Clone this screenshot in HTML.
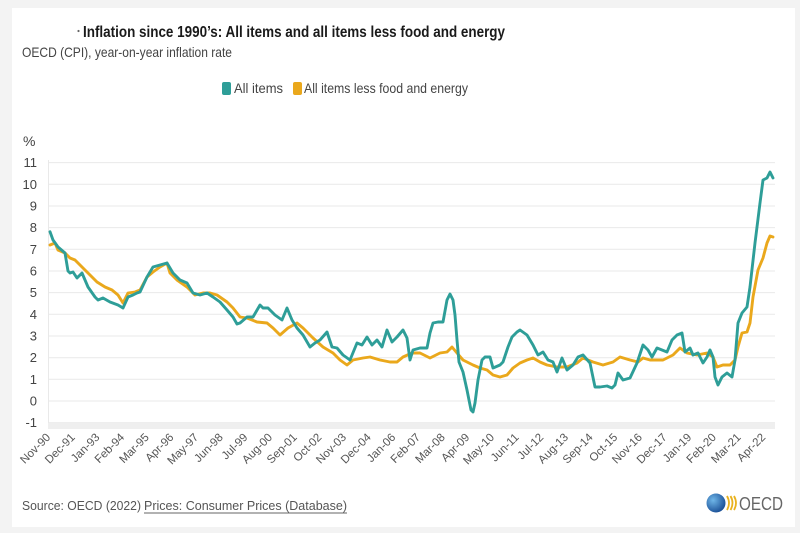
<!DOCTYPE html>
<html><head><meta charset="utf-8"><style>
html,body{margin:0;padding:0;background:#f3f3f3;}
svg{display:block;}
text{font-family:"Liberation Sans",sans-serif;}
</style></head><body>
<svg width="800" height="533" viewBox="0 0 800 533" xmlns="http://www.w3.org/2000/svg">
<rect x="0" y="0" width="800" height="533" fill="#f3f3f3"/>
<rect x="12" y="8" width="783" height="519" fill="#ffffff"/>
<circle cx="78.5" cy="31" r="1.1" fill="#666"/>
<text x="83" y="37" font-size="15.5" font-weight="bold" fill="#1a1a1a" textLength="422" lengthAdjust="spacingAndGlyphs">Inflation since 1990’s: All items and all items less food and energy</text>
<text x="22" y="57" font-size="14" fill="#444" textLength="210" lengthAdjust="spacingAndGlyphs">OECD (CPI), year-on-year inflation rate</text>
<rect x="222" y="82" width="9" height="13" rx="2" fill="#2e9e98"/>
<text x="234" y="93" font-size="14" fill="#444" textLength="49" lengthAdjust="spacingAndGlyphs">All items</text>
<rect x="293" y="82" width="9" height="13" rx="2" fill="#eaa81c"/>
<text x="304" y="93" font-size="14" fill="#444" textLength="164" lengthAdjust="spacingAndGlyphs">All items less food and energy</text>
<text x="23" y="146" font-size="14" fill="#444">%</text>
<g stroke="#e9e9e9" stroke-width="1">
<line x1="48" y1="162.6" x2="775" y2="162.6"/>
<line x1="48" y1="184.3" x2="775" y2="184.3"/>
<line x1="48" y1="206" x2="775" y2="206"/>
<line x1="48" y1="227.6" x2="775" y2="227.6"/>
<line x1="48" y1="249.3" x2="775" y2="249.3"/>
<line x1="48" y1="271" x2="775" y2="271"/>
<line x1="48" y1="292.6" x2="775" y2="292.6"/>
<line x1="48" y1="314.3" x2="775" y2="314.3"/>
<line x1="48" y1="336" x2="775" y2="336"/>
<line x1="48" y1="357.7" x2="775" y2="357.7"/>
<line x1="48" y1="379.3" x2="775" y2="379.3"/>
<line x1="48" y1="401" x2="775" y2="401"/>
<line x1="48" y1="422.7" x2="775" y2="422.7"/>
<line x1="48.5" y1="160" x2="48.5" y2="423"/>
</g>
<rect x="48" y="423" width="727" height="6" fill="#efefef"/>
<g font-size="13" fill="#444" text-anchor="end">
<text x="37" y="167">11</text>
<text x="37" y="189">10</text>
<text x="37" y="210.5">9</text>
<text x="37" y="232">8</text>
<text x="37" y="254">7</text>
<text x="37" y="275.5">6</text>
<text x="37" y="297">5</text>
<text x="37" y="319">4</text>
<text x="37" y="340.5">3</text>
<text x="37" y="362">2</text>
<text x="37" y="384">1</text>
<text x="37" y="405.5">0</text>
<text x="37" y="427">-1</text>
</g>
<g font-size="11.5" fill="#555" text-anchor="end">
<text transform="translate(51,438) rotate(-45)">Nov-90</text>
<text transform="translate(75.7,438) rotate(-45)">Dec-91</text>
<text transform="translate(100.3,438) rotate(-45)">Jan-93</text>
<text transform="translate(125,438) rotate(-45)">Feb-94</text>
<text transform="translate(149.6,438) rotate(-45)">Mar-95</text>
<text transform="translate(174.3,438) rotate(-45)">Apr-96</text>
<text transform="translate(199,438) rotate(-45)">May-97</text>
<text transform="translate(223.6,438) rotate(-45)">Jun-98</text>
<text transform="translate(248.3,438) rotate(-45)">Jul-99</text>
<text transform="translate(272.9,438) rotate(-45)">Aug-00</text>
<text transform="translate(297.6,438) rotate(-45)">Sep-01</text>
<text transform="translate(322.3,438) rotate(-45)">Oct-02</text>
<text transform="translate(346.9,438) rotate(-45)">Nov-03</text>
<text transform="translate(371.6,438) rotate(-45)">Dec-04</text>
<text transform="translate(396.2,438) rotate(-45)">Jan-06</text>
<text transform="translate(420.9,438) rotate(-45)">Feb-07</text>
<text transform="translate(445.6,438) rotate(-45)">Mar-08</text>
<text transform="translate(470.2,438) rotate(-45)">Apr-09</text>
<text transform="translate(494.9,438) rotate(-45)">May-10</text>
<text transform="translate(519.5,438) rotate(-45)">Jun-11</text>
<text transform="translate(544.2,438) rotate(-45)">Jul-12</text>
<text transform="translate(568.9,438) rotate(-45)">Aug-13</text>
<text transform="translate(593.5,438) rotate(-45)">Sep-14</text>
<text transform="translate(618.2,438) rotate(-45)">Oct-15</text>
<text transform="translate(642.8,438) rotate(-45)">Nov-16</text>
<text transform="translate(667.5,438) rotate(-45)">Dec-17</text>
<text transform="translate(692.2,438) rotate(-45)">Jan-19</text>
<text transform="translate(716.8,438) rotate(-45)">Feb-20</text>
<text transform="translate(741.5,438) rotate(-45)">Mar-21</text>
<text transform="translate(766.1,438) rotate(-45)">Apr-22</text>
</g>
<polyline fill="none" stroke="#eaa81c" stroke-width="2.9" stroke-linejoin="round" stroke-linecap="round" points="50,245 55,243 58,250 65,253 70,258 75,260 82,267 90,275 97,282 105,287 112,290 118,295 123,303 128,293 135,292 140,290 147,277 153,272 160,267 167,263 170,273 177,280 187,287 195,295 203,293 210,293 217,295 227,302 233,308 240,317 247,318 257,322 267,323 273,328 280,335 288,328 297,323 303,328 313,338 323,347 333,353 340,360 347,365 353,360 363,358 370,357 380,360 390,362 397,362 403,357 412,353 420,353 430,358 440,353 447,352 452,347 457,353 463,360 473,365 480,368 487,370 493,375 500,377 507,375 513,368 520,363 527,360 533,358 540,362 547,365 557,367 567,367 577,363 583,358 593,362 603,365 613,362 620,357 630,360 638,362 643,358 650,360 663,360 673,355 680,348 687,353 697,355 707,353 713,357 717,367 723,365 730,365 735,360 738,347 742,333 747,332 750,323 753,297 758,270 763,258 767,243 770,236 773,237"/>
<polyline fill="none" stroke="#2e9e98" stroke-width="2.9" stroke-linejoin="round" stroke-linecap="round" points="50,231.7 53,240 58,247 65,253 68,271 70,273 73,272 77,278 82,273 88,287 95,297 98,300 103,298 110,302 118,305 123,308 128,297 133,295 137,293 140,292 147,277 153,267 160,265 167,263 173,273 180,280 187,283 193,293 200,295 207,293 213,297 220,302 227,310 233,317 237,324 240,323 247,317 253,317 260,305 263,308 268,308 275,315 282,320 287,308 292,320 297,328 303,335 310,347 315,343 320,340 327,332 332,347 337,348 343,355 350,360 357,343 362,345 367,337 372,345 377,340 382,347 387,330 392,342 397,337 403,330 407,338 410,360 413,350 420,348 427,348 430,333 433,323 438,322 443,322 447,300 450,294 453,300 455,315 457,340 459,362 463,372 467,390 471,410 473,412 475,403 478,380 482,360 485,357 490,357 493,368 500,365 503,362 508,347 512,337 517,332 520,330 527,335 533,345 538,355 543,352 548,360 553,362 557,372 562,358 567,370 573,365 578,357 583,355 590,363 595,387 600,387 607,386 612,388 615,385 618,373 623,380 630,378 637,363 643,345 648,350 652,357 657,348 662,350 667,352 672,340 677,335 682,333 685,352 690,348 693,355 698,353 703,363 707,357 710,350 713,357 715,377 718,385 722,377 727,373 732,377 735,360 738,323 742,313 747,307 750,287 755,243 760,203 763,180 767,178 770,172 773,178"/>
<text x="22" y="510" font-size="13" fill="#555" textLength="119" lengthAdjust="spacingAndGlyphs">Source: OECD (2022)</text>
<text x="144" y="510" font-size="13" fill="#555" textLength="203" lengthAdjust="spacingAndGlyphs">Prices: Consumer Prices (Database)</text>
<line x1="144" y1="513" x2="347" y2="513" stroke="#666" stroke-width="0.9"/>
<defs><radialGradient id="g" cx="0.35" cy="0.35" r="0.7"><stop offset="0" stop-color="#6fb6e8"/><stop offset="1" stop-color="#1a4f96"/></radialGradient></defs>
<circle cx="716" cy="503" r="9.5" fill="url(#g)"/>
<path d="M727,496 q4,7 0,14 M730.5,496 q4,7 0,14 M734,496 q4,7 0,14" fill="none" stroke="#e9b21e" stroke-width="1.8"/>
<text x="739" y="510" font-size="18" fill="#666" textLength="44" lengthAdjust="spacingAndGlyphs">OECD</text>
</svg>
</body></html>
